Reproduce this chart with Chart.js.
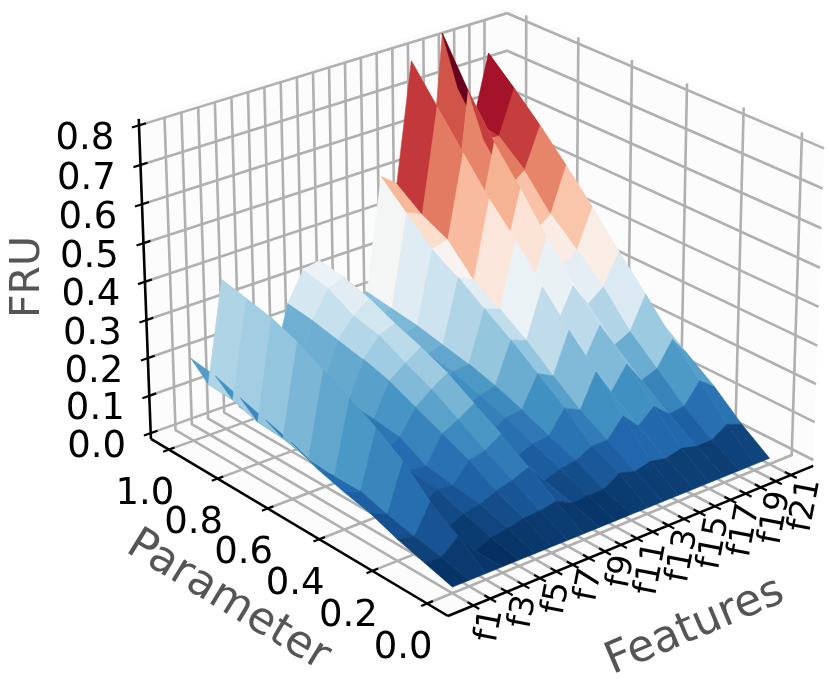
<!DOCTYPE html>
<html>
<head>
<meta charset="utf-8">
<style>
  html, body { margin: 0; padding: 0; background: #fff; }
  canvas { display: block; }
</style>
<script src="https://cdn.jsdelivr.net/npm/chart.js@4"></script>
</head>
<body>
<canvas id="chart" width="829" height="689"></canvas>
<script>
const features = ['f1','f2','f3','f4','f5','f6','f7','f8','f9','f10','f11','f12','f13','f14','f15','f16','f17','f18','f19','f20','f21'];
const featureLabels = ['f1','f3','f5','f7','f9','f11','f13','f15','f17','f19','f21'];
const paramTicks = [0, 0.2, 0.4, 0.6, 0.8, 1.0];
const fruTicks = [0, 0.1, 0.2, 0.3, 0.4, 0.5, 0.6, 0.7, 0.8];
const params = [0, 0.1, 0.2, 0.3, 0.4, 0.5, 0.6, 0.7, 0.8, 0.9, 1.0];

// FRU per parameter (row) and feature (column)
const fruP00 = [0,0,0,0,0,0,0,0,0,0,0,0,0,0,0,0,0,0,0,0,0];
const fruP01 = [.02,.018,.054,0,.018,.024,.034,.036,.044,.023,.026,.026,.052,.04,.05,.042,.052,.042,.042,.068,.052];
const fruP02 = [.04,.031,.102,.021,.039,.047,.065,.076,.094,.042,.057,.063,.084,.084,.131,.089,.125,.089,.094,.146,.115];
const fruP03 = [.066,.047,.167,.031,.063,.057,.105,.115,.141,.068,.084,.089,.146,.125,.209,.141,.199,.141,.157,.219,.167];
const fruP04 = [.082,.068,.214,.052,.073,.068,.136,.157,.183,.094,.115,.12,.199,.178,.282,.188,.266,.199,.219,.303,.219];
const fruP05 = [.102,.068,.251,.073,.084,.105,.167,.199,.225,.115,.136,.146,.251,.235,.361,.251,.334,.272,.303,.381,.282];
const fruP06 = [.133,.073,.287,.084,.094,.115,.199,.23,.256,.136,.162,.167,.298,.282,.449,.303,.428,.334,.366,.465,.345];
const fruP07 = [.153,.089,.324,.094,.105,.12,.219,.266,.282,.152,.172,.183,.345,.324,.522,.355,.522,.397,.428,.543,.397];
const fruP08 = [.173,.094,.35,.099,.105,.125,.235,.282,.313,.167,.183,.199,.387,.397,.611,.41,.611,.481,.512,.617,.449];
const fruP09 = [.194,.115,.366,.094,.105,.115,.251,.319,.334,.178,.193,.209,.449,.43,.7,.36,.716,.575,.57,.684,.491];
const fruP10 = [.204,.12,.381,.094,.094,.105,.261,.334,.345,.188,.204,.219,.512,.48,.789,.38,.836,.679,.58,.747,.522];
const fruRows = [fruP00, fruP01, fruP02, fruP03, fruP04, fruP05, fruP06, fruP07, fruP08, fruP09, fruP10];

// RdBu_r colormap stops
const rdbu = ['#053061','#2166ac','#4393c3','#92c5de','#d1e5f0','#f7f7f7','#fddbc7','#f4a582','#d6604d','#b2182b','#67001f'];

// axis limits of the 3d box
const featureLim = [-1.5, 21.5];
const paramLim = [-0.075, 1.075];
const fruLim = [-0.0156, 0.8];

// perspective of the 3d box, box coords u,v,w run 0..1
function project(u, v, w) {
  const d = 1 + 0.0711 * u + 0.0872 * v - 0.036 * w;
  return {
    x: (448 + 423 * u - 283.9 * v - 18 * w) / d,
    y: (616 - 117 * u - 138.8 * v - 345.4 * w) / d,
    d: d
  };
}
const uOf = i => (i - featureLim[0]) / (featureLim[1] - featureLim[0]);
const vOf = p => (p - paramLim[0]) / (paramLim[1] - paramLim[0]);
const wOf = z => (z - fruLim[0]) / (fruLim[1] - fruLim[0]);

function hexToRgb(h) {
  return [parseInt(h.slice(1, 3), 16), parseInt(h.slice(3, 5), 16), parseInt(h.slice(5, 7), 16)];
}
function cmap(t) {
  t = Math.min(1, Math.max(0, t)) * (rdbu.length - 1);
  const i = Math.min(rdbu.length - 2, Math.floor(t));
  const a = hexToRgb(rdbu[i]), b = hexToRgb(rdbu[i + 1]);
  const c = a.map((val, k) => Math.round(val + (b[k] - val) * (t - i)));
  return `rgb(${c[0]},${c[1]},${c[2]})`;
}

const datasets = [];
const GRID = '#b0b0b0';

function addLine(pts, color, width, order) {
  datasets.push({
    data: pts.map(p => { const q = project(p[0], p[1], p[2]); return { x: q.x, y: q.y }; }),
    borderColor: color, borderWidth: width, pointRadius: 0, fill: false,
    tension: 0, order: order, clip: false
  });
}
function addPolygon(pts, color, order, edge) {
  datasets.push({
    data: pts.concat([pts[0]]).map(p => { const q = project(p[0], p[1], p[2]); return { x: q.x, y: q.y }; }),
    borderColor: color, backgroundColor: color, borderWidth: edge, pointRadius: 0,
    fill: 'shape', tension: 0, order: order, clip: false
  });
}

// panes
const PANE = '#fcfcfc';
const paneTop = 1.02;
addPolygon([[0,1,0],[1,1,0],[1,1,paneTop],[0,1,paneTop]], PANE, 100000, 0);
addPolygon([[1,0,0],[1,1,0],[1,1,paneTop],[1,0,paneTop]], PANE, 100000, 0);
addPolygon([[0,0,0],[1,0,0],[1,1,0],[0,1,0]], PANE, 100000, 0);

// grid lines, one per feature
features.forEach((f, i) => {
  const u = uOf(i);
  addLine([[u,0,0],[u,1,0],[u,1,1]], GRID, 2.6, 90000);
});
paramTicks.forEach(p => {
  const v = vOf(p);
  addLine([[0,v,0],[1,v,0],[1,v,paneTop]], GRID, 2.6, 90000);
});
fruTicks.forEach(z => {
  const w = wOf(z);
  addLine([[0,1,w],[1,1,w],[1,0,w]], GRID, 2.6, 90000);
});

// axis lines and tick marks
addLine([[0,1,0],[0,1,paneTop]], '#000', 2.6, 80000);
addLine([[0,1,0],[0,0,0]], '#000', 2.6, 80000);
addLine([[0,0,0],[1,0,0]], '#000', 2.6, 80000);
fruTicks.forEach(z => {
  const w = wOf(z);
  addLine([[-0.018,1,w],[0.018,1,w]], '#000', 2.2, 80000);
});
paramTicks.forEach(p => {
  const v = vOf(p);
  addLine([[-0.015,v,0],[0.015,v,0]], '#000', 2.2, 80000);
});
features.forEach((f, i) => {
  const u = uOf(i);
  addLine([[u,-0.018,0],[u,0.018,0]], '#000', 2.2, 80000);
});

// surface quads, sorted back to front like mplot3d does
const quads = [];
for (let r = 0; r < params.length - 1; r++) {
  for (let c = 0; c < features.length - 1; c++) {
    const corners = [[c, r], [c + 1, r], [c + 1, r + 1], [c, r + 1]];
    const pts = corners.map(k => [uOf(k[0]), vOf(params[k[1]]), wOf(fruRows[k[1]][k[0]])]);
    const mean = corners.reduce((s, k) => s + fruRows[k[1]][k[0]], 0) / 4;
    const depth = pts.reduce((s, p) => s + project(p[0], p[1], p[2]).d, 0) / 4;
    quads.push({ pts, mean, depth });
  }
}
const means = quads.map(q => q.mean);
const vmin = Math.min(...means), vmax = Math.max(...means);
quads.sort((a, b) => a.depth - b.depth);
quads.forEach((q, idx) => {
  addPolygon(q.pts, cmap((q.mean - vmin) / (vmax - vmin)), idx, 0.6);
});

// text drawn on top of everything
const textPlugin = {
  id: 'axisText',
  afterDraw(chart) {
    const ctx = chart.ctx;
    const sx = chart.scales.x, sy = chart.scales.y;
    const put = (txt, x, y, font, color, rot, align) => {
      ctx.save();
      ctx.translate(sx.getPixelForValue(x), sy.getPixelForValue(y));
      ctx.rotate(rot * Math.PI / 180);
      ctx.font = font;
      ctx.fillStyle = color;
      ctx.textAlign = align || 'center';
      ctx.textBaseline = 'middle';
      ctx.fillText(txt, 0, 0);
      ctx.restore();
    };
    const tickFont = '37px "DejaVu Sans"';
    fruTicks.forEach(z => {
      const q = project(0, 1, wOf(z));
      put(z.toFixed(1), q.x - 54, q.y + 14, tickFont, '#000', 0);
    });
    paramTicks.forEach(p => {
      const q = project(0, vOf(p), 0);
      put(p.toFixed(1), q.x - 24, q.y + 45, tickFont, '#000', 0);
    });
    featureLabels.forEach(f => {
      const q = project(uOf(features.indexOf(f)), 0, 0);
      put(f, q.x + 20, q.y + 4, '33px "DejaVu Sans"', '#000', -79, 'right');
    });
    const titleFont = '44px "DejaVu Sans"';
    put('FRU', 28, 277, '41px "DejaVu Sans"', '#555555', -90);
    put('Parameter', 228, 601, titleFont, '#555555', 31.5);
    put('Features', 695, 627, titleFont, '#555555', -23);
  }
};

new Chart(document.getElementById('chart'), {
  type: 'line',
  data: { datasets: datasets },
  plugins: [textPlugin],
  options: {
    responsive: false,
    animation: false,
    devicePixelRatio: 1,
    layout: { padding: 0 },
    plugins: { legend: { display: false }, tooltip: { enabled: false } },
    scales: {
      x: { type: 'linear', display: false, min: 0, max: 829 },
      y: { type: 'linear', display: false, min: 0, max: 689, reverse: true }
    }
  }
});
</script>
</body>
</html>
